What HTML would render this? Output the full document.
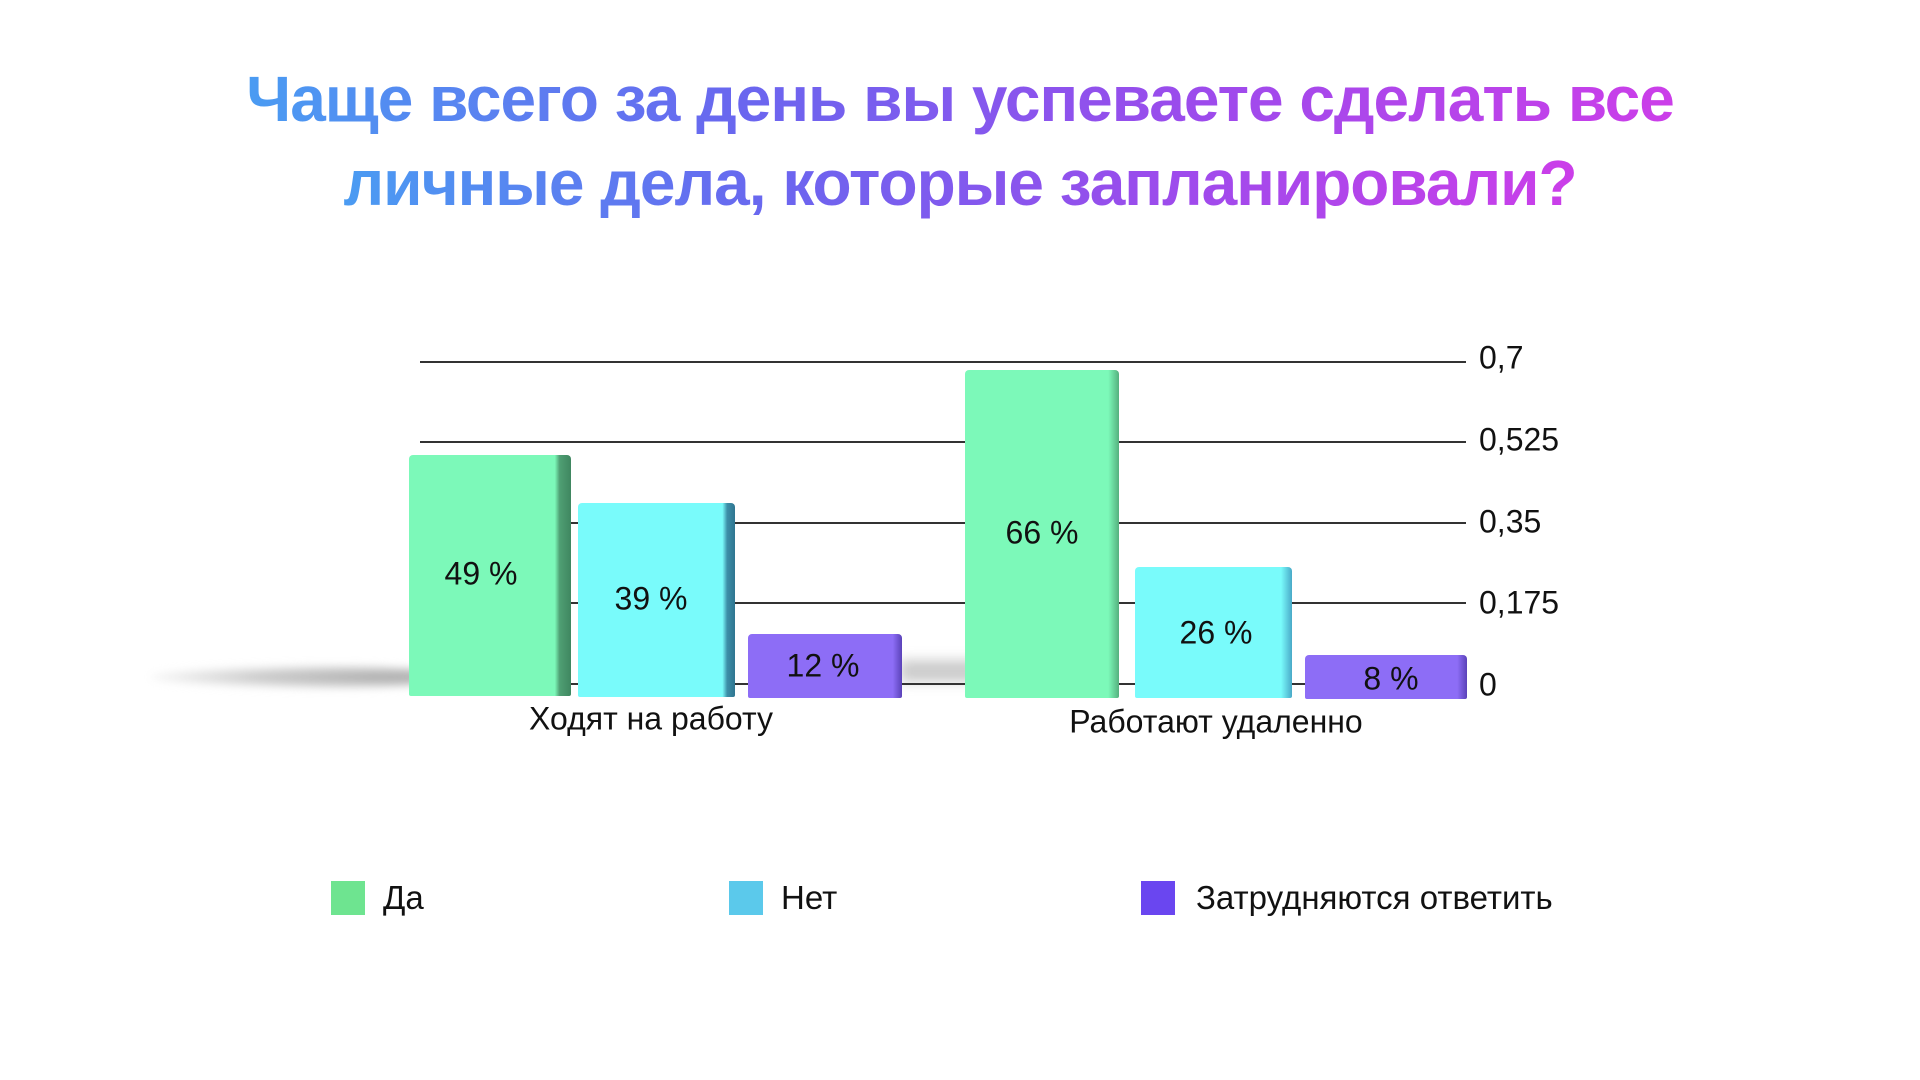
<!DOCTYPE html>
<html><head><meta charset="utf-8"><style>
body{margin:0;width:1920px;height:1080px;background:#fff;position:relative;overflow:hidden;font-family:"Liberation Sans","DejaVu Sans",sans-serif;}
.title{position:absolute;left:0;top:57px;width:1920px;text-align:center;font-weight:bold;font-size:64px;line-height:84px;letter-spacing:-1px}
.title span{background:linear-gradient(90deg,#4a9cf2 0%,#6a66ef 35%,#9a4cec 65%,#cc3ee9 100%);-webkit-background-clip:text;background-clip:text;color:transparent;padding:0 4px}
.g{position:absolute;left:420px;width:1046px;height:2px;background:#333}
.yl{position:absolute;left:1479px;font-size:32px;color:#111;transform:translateY(-50%)}
.bar{position:absolute;border-radius:4px 4px 2px 2px;}
.lab{position:absolute;font-size:32px;color:#111;transform:translate(-50%,-50%);white-space:nowrap}
.sq{position:absolute;width:34px;height:34px;top:881px}
.lt{position:absolute;top:898px;font-size:33px;color:#111;transform:translateY(-50%)}
</style></head><body>
<div class="title"><span>Чаще всего за день вы успеваете сделать все</span><br><span>личные дела, которые запланировали?</span></div>

<div style="position:absolute;left:150px;top:664px;width:300px;height:26px;border-radius:50%;background:radial-gradient(ellipse at 80% 50%,#aaa 0%,#ccc 40%,rgba(255,255,255,0) 75%);filter:blur(4px)"></div>
<div style="position:absolute;left:900px;top:660px;width:80px;height:22px;background:#ccc;filter:blur(6px)"></div>

<div class="g" style="top:361px"></div>
<div class="g" style="top:441px"></div>
<div class="g" style="top:522px"></div>
<div class="g" style="top:602px"></div>
<div class="g" style="top:683px"></div>
<div class="yl" style="top:358px">0,7</div>
<div class="yl" style="top:440px">0,525</div>
<div class="yl" style="top:522px">0,35</div>
<div class="yl" style="top:603px">0,175</div>
<div class="yl" style="top:685px">0</div>

<div class="bar" style="left:409px;top:455px;width:162px;height:241px;background:linear-gradient(90deg,#7cf9b9 0%,#7cf9b9 90%,#4f9f73 93%,#3f8660 100%)"></div>
<div class="bar" style="left:578px;top:503px;width:157px;height:194px;background:linear-gradient(90deg,#79fbfb 0%,#79fbfb 92%,#3d8fa8 95%,#2f7590 100%)"></div>
<div class="bar" style="left:748px;top:634px;width:154px;height:64px;background:linear-gradient(90deg,#8d6df6 0%,#8d6df6 94%,#5a42b8 100%)"></div>
<div class="bar" style="left:965px;top:370px;width:154px;height:328px;background:linear-gradient(90deg,#7cf9b9 0%,#7cf9b9 93%,#55b07e 100%)"></div>
<div class="bar" style="left:1135px;top:567px;width:157px;height:131px;background:linear-gradient(90deg,#79fbfb 0%,#79fbfb 93%,#49a9c8 100%)"></div>
<div class="bar" style="left:1305px;top:655px;width:162px;height:44px;background:linear-gradient(90deg,#8d6df6 0%,#8d6df6 94%,#5a42b8 100%)"></div>

<div class="lab" style="left:481px;top:574px">49 %</div>
<div class="lab" style="left:651px;top:599px">39 %</div>
<div class="lab" style="left:823px;top:666px">12 %</div>
<div class="lab" style="left:1042px;top:533px">66 %</div>
<div class="lab" style="left:1216px;top:633px">26 %</div>
<div class="lab" style="left:1391px;top:679px">8 %</div>
<div class="lab" style="left:651px;top:719px">Ходят на работу</div>
<div class="lab" style="left:1216px;top:722px">Работают удаленно</div>

<div class="sq" style="left:331px;background:#6ee490"></div><div class="lt" style="left:383px">Да</div>
<div class="sq" style="left:729px;background:#5bc9eb"></div><div class="lt" style="left:781px">Нет</div>
<div class="sq" style="left:1141px;background:#6a46f0"></div><div class="lt" style="left:1196px">Затрудняются ответить</div>
</body></html>
